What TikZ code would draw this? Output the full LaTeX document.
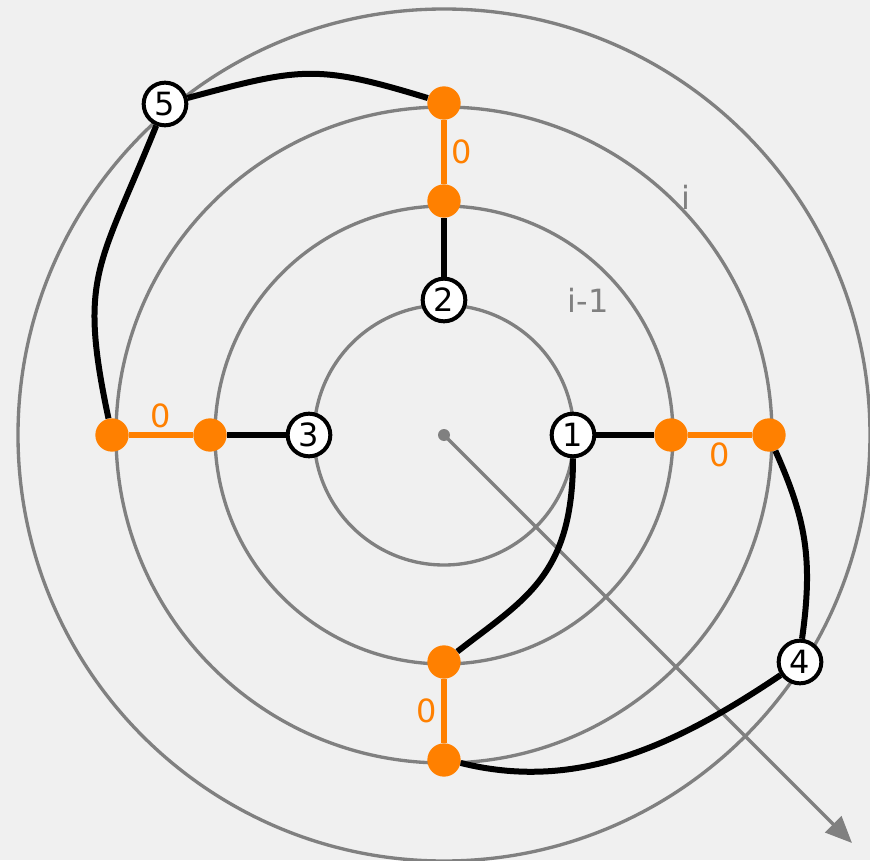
\documentclass[tikz,border=0pt]{standalone}
\usepackage{fontspec}
\setmainfont{DejaVu Sans}
\usetikzlibrary{arrows.meta}
\definecolor{bggray}{HTML}{F0F0F0}
\definecolor{ringgray}{HTML}{808080}
\definecolor{portorange}{HTML}{FF8000}

\begin{document}
\begin{tikzpicture}[
  x=0.75pt, y=0.75pt,
  ring/.style={draw=ringgray, line width=2.5pt},
  vertex/.style={circle, draw=black, fill=white, line width=3pt, minimum size=32pt, inner sep=0pt, font=\fontsize{24}{28}\selectfont},
  port/.style={circle, fill=portorange, minimum size=25pt, inner sep=0pt},
  link/.style={line width=4.5pt},
  zeroedge/.style={draw=portorange, line width=4.2pt},
  zerolabel/.style={text=portorange, inner sep=3.5pt, font=\fontsize{24}{28}\selectfont},
  level/.style={text=ringgray, font=\fontsize{24}{28}\selectfont},
  ray/.style={draw=ringgray, line width=2.5pt, -{Triangle[length=20pt,width=17pt]}}
]
\useasboundingbox (-444,-425) rectangle (426,435);
\fill[bggray] (-444,-425) rectangle (426,435);
\coordinate (O) at (0,0);
\draw[ring] (O) circle[radius=130];
\draw[ring] (O) circle[radius=229];
\draw[ring] (O) circle[radius=328];
\draw[ring] (O) circle[radius=426];
\node[level] (lvi) at (242,238) {i};
\node[level] (lvim) at (144,135) {i-1};
\fill[ringgray] (O) circle[radius=6];
\coordinate (rayend) at (408,-408);
\draw[ray] (O) -- (rayend);

\node[vertex] (v1) at (129,0) {1};
\node[vertex] (v2) at (0,135) {2};
\node[vertex] (v3) at (-135,0) {3};
\node[vertex] (v4) at (356,-227) {4};
\node[vertex] (v5) at (-279,331) {5};

\node[port] (topout) at (0,332) {};
\node[port] (topin) at (0,234) {};
\node[port] (leftin) at (-234,0) {};
\node[port] (leftout) at (-332,0) {};
\node[port] (rightin) at (227,0) {};
\node[port] (rightout) at (325,0) {};
\node[port] (botin) at (0,-227) {};
\node[port] (botout) at (0,-325) {};

\draw[link] (v2) -- (topin);
\draw[link] (v3) -- (leftin);
\draw[link] (v1) -- (rightin);
\draw[link] (v5.15) .. controls +(15:117) and +(163:117) .. (topout.163);
\draw[link] (v5.248) .. controls +(248:154) and +(102:146) .. (leftout.102);
\draw[link] (v1.south) .. controls +(0,-118) and +(38:85) .. (botin.38);
\draw[link] (rightout.-68) .. controls +(-66:76) and +(82:80) .. (v4.85);
\draw[link] (v4.214) .. controls +(214:135) and +(-14:115) .. (botout.-10);

\draw[zeroedge] (topout) -- node[zerolabel, right] {0} (topin);
\draw[zeroedge] (leftout) -- node[zerolabel, above] {0} (leftin);
\draw[zeroedge] (rightin) -- node[zerolabel, below] {0} (rightout);
\draw[zeroedge] (botin) -- node[zerolabel, left] {0} (botout);
\end{tikzpicture}
\end{document}
